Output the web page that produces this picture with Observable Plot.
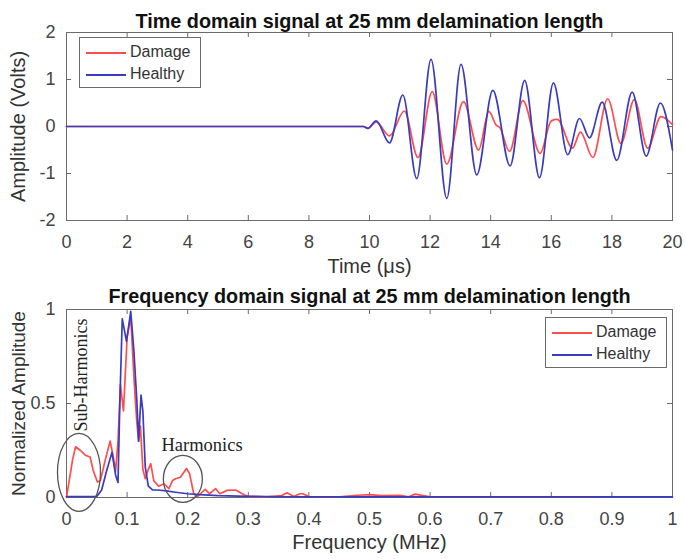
<!DOCTYPE html>
<html>
<head>
<meta charset="utf-8">
<script src="https://cdn.jsdelivr.net/npm/d3@7"></script>
<script src="https://cdn.jsdelivr.net/npm/@observablehq/plot@0.6"></script>
<style>
  body { margin: 0; background: #fff; }
  #wrap { position: relative; width: 686px; height: 559px; font-family: "Liberation Sans", Arial, sans-serif; }
  .panel { position: absolute; left: 0; }
  .legend { position: absolute; box-sizing: border-box; width: 122px; height: 51px; border: 1px solid #6b6b6b; background: #fff; }
  .legend .ln { position: absolute; left: 6px; width: 40px; height: 0; border-top: 2px solid; }
  .legend .tx { position: absolute; left: 50px; font-size: 16px; line-height: 20px; color: #333; }
</style>
</head>
<body>
<div id="wrap">
  <div class="panel" id="p1" style="top:0"></div>
  <div class="panel" id="p2" style="top:280px"></div>
</div>
<script>
// ---------- data ----------
const seriesNames = ["Damage", "Healthy"];
const titleTime = "Time domain signal at 25 mm delamination length";
const titleFreq = "Frequency domain signal at 25 mm delamination length";
const labelTime = "Time (μs)";
const labelAmp = "Amplitude (Volts)";
const labelFreq = "Frequency (MHz)";
const labelNorm = "Normalized Amplitude";

const timeTicks = [0, 2, 4, 6, 8, 10, 12, 14, 16, 18, 20];
const ampTicks = [-2, -1, 0, 1, 2];
const freqTicks = [0, 0.1, 0.2, 0.3, 0.4, 0.5, 0.6, 0.7, 0.8, 0.9, 1];
const normTicks = [0, 0.5, 1];

// time domain (μs, Volts) – extrema
const healthyT = [0, 9.8, 9.95, 10.22, 10.66, 11.1, 11.56, 12.03, 12.55, 13.02, 13.54, 14.07, 14.64, 15.12, 15.61, 16.07, 16.54, 16.93, 17.26, 17.68, 18.16, 18.67, 19.13, 19.6, 20];
const healthyV = [0, 0, -0.04, 0.12, -0.35, 0.67, -1.11, 1.43, -1.53, 1.32, -1.03, 0.77, -0.84, 0.98, -1.09, 0.93, -0.6, 0.17, -0.24, 0.52, -0.72, 0.73, -0.63, 0.5, -0.5];
const damageT = [0, 9.8, 9.95, 10.22, 10.66, 11.15, 11.6, 12.07, 12.55, 13.1, 13.6, 13.94, 14.18, 14.3, 14.62, 15.06, 15.63, 16.0, 16.2, 16.7, 16.96, 17.37, 17.86, 18.3, 18.74, 19.18, 19.62, 20];
const damageV = [0, 0, -0.04, 0.1, -0.2, 0.33, -0.66, 0.74, -0.8, 0.53, -0.5, 0.32, 0.03, -0.02, -0.53, 0.55, -0.57, 0.12, 0.15, -0.46, -0.12, -0.66, 0.59, -0.36, 0.57, -0.46, 0.21, 0.04];

// frequency domain (MHz, normalized)
const healthyF = [0, 0.05, 0.058, 0.066, 0.075, 0.081, 0.085, 0.088, 0.092, 0.099, 0.106, 0.111, 0.116, 0.119, 0.123, 0.126, 0.13, 0.135, 0.142, 0.15, 0.165, 0.18, 0.2, 0.22, 0.25, 0.3, 0.35, 0.45, 0.6, 0.8, 1];
const healthyA = [0.005, 0.006, 0.04, 0.14, 0.24, 0.12, 0.08, 0.5, 0.95, 0.83, 0.99, 0.79, 0.52, 0.3, 0.545, 0.46, 0.16, 0.06, 0.04, 0.04, 0.035, 0.028, 0.02, 0.015, 0.01, 0.006, 0.004, 0.003, 0.003, 0.003, 0.003];
const damageF = [0, 0.004, 0.01, 0.015, 0.023, 0.031, 0.039, 0.044, 0.051, 0.056, 0.064, 0.072, 0.077, 0.081, 0.085, 0.089, 0.094, 0.1, 0.106, 0.112, 0.116, 0.119, 0.122, 0.126, 0.13, 0.135, 0.139, 0.144, 0.152, 0.161, 0.169, 0.175, 0.18, 0.188, 0.198, 0.203, 0.21, 0.216, 0.224, 0.229, 0.236, 0.246, 0.253, 0.265, 0.279, 0.293, 0.3, 0.33, 0.355, 0.364, 0.375, 0.385, 0.39, 0.4, 0.45, 0.48, 0.5, 0.52, 0.55, 0.565, 0.575, 0.6, 0.7, 0.8, 0.865];
const damageA = [0, 0.08, 0.2, 0.27, 0.25, 0.225, 0.215, 0.145, 0.082, 0.09, 0.2, 0.3, 0.22, 0.14, 0.3, 0.6, 0.46, 0.85, 0.96, 0.6, 0.4, 0.3, 0.38, 0.15, 0.1, 0.15, 0.18, 0.09, 0.06, 0.073, 0.047, 0.09, 0.1, 0.108, 0.154, 0.128, 0.02, 0.005, 0.028, 0.043, 0.02, 0.047, 0.02, 0.038, 0.04, 0.015, 0.005, 0.004, 0.01, 0.025, 0.005, 0.02, 0.02, 0.005, 0.004, 0.012, 0.015, 0.01, 0.012, 0.004, 0.018, 0.003, 0.003, 0.003, 0.003];

// annotations (data coordinates)
const annoText = ["Sub-Harmonics", "Harmonics"];
const annoF = [0.0248, 0.2236];
const annoA = [0.652, 0.278];
const ringF = [0.0206, 0.192];
const ringA = [0.134, 0.099];

// ---------- styling ----------
const RED = "#ff4d4d", BLUE = "#3b3bc0", AX = "#6b6b6b", TXT = "#444";
const FONT = "Liberation Sans, Arial, sans-serif";

function ellipseSymbol(rx, ry) {
  const k = 0.5523;
  return {
    draw(ctx) {
      ctx.moveTo(rx, 0);
      ctx.bezierCurveTo(rx, k * ry, k * rx, ry, 0, ry);
      ctx.bezierCurveTo(-k * rx, ry, -rx, k * ry, -rx, 0);
      ctx.bezierCurveTo(-rx, -k * ry, -k * rx, -ry, 0, -ry);
      ctx.bezierCurveTo(k * rx, -ry, rx, -k * ry, rx, 0);
      ctx.closePath();
    }
  };
}

function frameMarks(xt, yt, fw, fh, fmt, padX, padY) {
  return [
    Plot.frame({stroke: AX, strokeWidth: 1}),
    Plot.tickX(xt, {x: d => d, insetTop: fh - 5, stroke: AX}),
    Plot.tickX(xt, {x: d => d, insetBottom: fh - 5, stroke: AX}),
    Plot.tickY(yt, {y: d => d, insetRight: fw - 5, stroke: AX}),
    Plot.tickY(yt, {y: d => d, insetLeft: fw - 5, stroke: AX}),
    Plot.axisX({ticks: xt, tickSize: 0, tickPadding: padX, tickFormat: fmt, fontSize: 18, fill: TXT, label: null}),
    Plot.axisY({ticks: yt, tickSize: 0, tickPadding: padY, tickFormat: fmt, fontSize: 18, fill: TXT, label: null})
  ];
}

const fmt = d => String(d);

// ---------- top chart ----------
const W = 686;
const m1 = {top: 32, bottom: 60, left: 66, right: 14};
const H1 = 280;
const top1 = Plot.plot({
  width: W, height: H1,
  marginTop: m1.top, marginBottom: m1.bottom, marginLeft: m1.left, marginRight: m1.right,
  x: {domain: [0, 20]},
  y: {domain: [-2, 2]},
  style: {fontFamily: FONT, background: "white", overflow: "visible"},
  marks: [
    ...frameMarks(timeTicks, ampTicks, W - m1.left - m1.right, H1 - m1.top - m1.bottom, fmt, 15, 11),
    Plot.line(damageT, {x: damageT, y: damageV, stroke: RED, strokeWidth: 1.7, curve: "monotone-x"}),
    Plot.line(healthyT, {x: healthyT, y: healthyV, stroke: BLUE, strokeWidth: 1.7, curve: "monotone-x"}),
    Plot.text([titleTime], {frameAnchor: "top", dy: -19, fontSize: 19.8, fontWeight: "bold", fill: "#111"}),
    Plot.text([labelTime], {frameAnchor: "bottom", dy: 52, fontSize: 20, fill: "#333"}),
    Plot.text([labelAmp], {frameAnchor: "left", textAnchor: "middle", dx: -48, rotate: -90, fontSize: 20, fill: "#333"})
  ]
});
document.getElementById("p1").appendChild(top1);

// ---------- bottom chart ----------
const m2 = {top: 29, bottom: 62, left: 66, right: 14};
const H2 = 279;
const bot = Plot.plot({
  width: W, height: H2,
  marginTop: m2.top, marginBottom: m2.bottom, marginLeft: m2.left, marginRight: m2.right,
  x: {domain: [0, 1]},
  y: {domain: [0, 1]},
  style: {fontFamily: FONT, background: "white", overflow: "visible"},
  marks: [
    ...frameMarks(freqTicks, normTicks, W - m2.left - m2.right, H2 - m2.top - m2.bottom, fmt, 15, 11),
    Plot.line(damageF, {x: damageF, y: damageA, stroke: RED, strokeWidth: 1.7}),
    Plot.line(healthyF, {x: healthyF, y: healthyA, stroke: BLUE, strokeWidth: 1.7}),
    Plot.dot([0], {x: ringF[0], y: ringA[0], symbol: ellipseSymbol(21.5, 39), stroke: "#555", strokeWidth: 1.3, fill: "none"}),
    Plot.dot([0], {x: ringF[1], y: ringA[1], symbol: ellipseSymbol(19.5, 23.5), stroke: "#555", strokeWidth: 1.3, fill: "none"}),
    Plot.text([annoText[0]], {x: annoF[0], y: annoA[0], rotate: -90, fontSize: 18, fontFamily: "Liberation Serif, Times New Roman, serif", fill: "#222"}),
    Plot.text([annoText[1]], {x: annoF[1], y: annoA[1], fontSize: 18.5, fontFamily: "Liberation Serif, Times New Roman, serif", fill: "#222"}),
    Plot.text([titleFreq], {frameAnchor: "top", dy: -21, fontSize: 19.8, fontWeight: "bold", fill: "#111"}),
    Plot.text([labelFreq], {frameAnchor: "bottom", dy: 51, fontSize: 20, fill: "#333"}),
    Plot.text([labelNorm], {frameAnchor: "left", textAnchor: "middle", dx: -48, rotate: -90, fontSize: 19, fill: "#333"})
  ]
});
document.getElementById("p2").appendChild(bot);

// ---------- legends ----------
function legend(left, topPx) {
  const colors = [RED, BLUE];
  const div = document.createElement("div");
  div.className = "legend";
  div.style.left = left + "px";
  div.style.top = topPx + "px";
  seriesNames.forEach((name, i) => {
    const ln = document.createElement("div");
    ln.className = "ln";
    ln.style.top = (14 + i * 22) + "px";
    ln.style.borderTopColor = colors[i];
    const tx = document.createElement("div");
    tx.className = "tx";
    tx.style.top = (4 + i * 22) + "px";
    tx.textContent = name;
    div.appendChild(ln);
    div.appendChild(tx);
  });
  document.getElementById("wrap").appendChild(div);
}
legend(79, 37);
legend(545, 317);
</script>
</body>
</html>
